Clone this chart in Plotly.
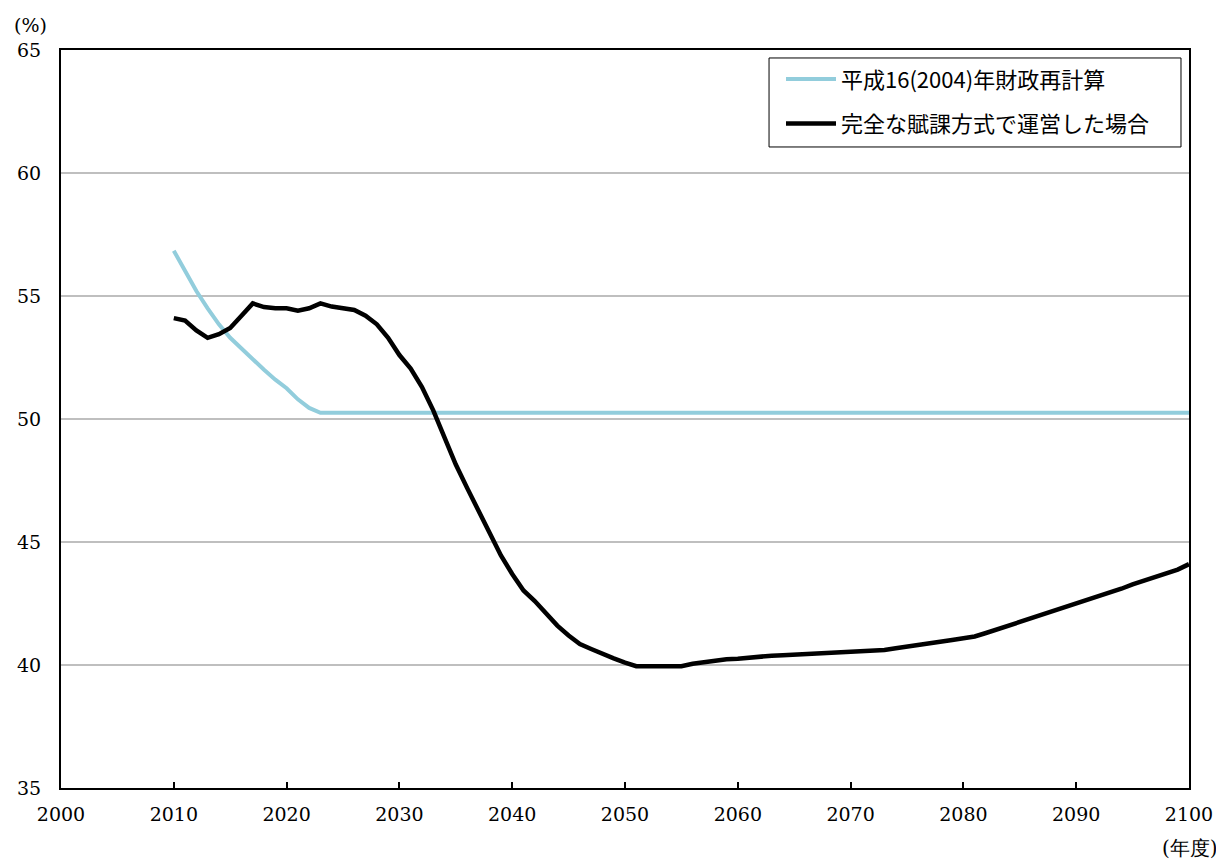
import plotly.graph_objects as go

years_black = list(range(2010, 2101))
black_vals = [
    54.1, 54.0, 53.6, 53.3, 53.45, 53.7, 54.2, 54.7, 54.55, 54.5,
    54.5, 54.4, 54.5, 54.7, 54.57, 54.5, 54.43, 54.2, 53.85, 53.3,
    52.6, 52.05, 51.3, 50.35, 49.2, 48.15, 47.2, 46.3, 45.35, 44.45,
    43.7, 43.03, 42.6, 42.1, 41.6, 41.2, 40.85, 40.65, 40.45, 40.27,
    40.1, 39.95, 39.95, 39.95, 39.95, 39.95, 40.05, 40.12, 40.18, 40.23,
    40.25, 40.3, 40.33, 40.38, 40.4, 40.42, 40.46, 40.47, 40.48, 40.49,
    40.52, 40.55, 40.58, 40.61, 40.68, 40.74, 40.81, 40.88, 40.95, 41.02,
    41.09, 41.16, 41.3, 41.45, 41.58, 41.72, 41.87, 42.02, 42.17, 42.32,
    42.47, 42.62, 42.77, 42.91, 43.1, 43.28, 43.43, 43.58, 43.72, 43.88,
    44.1,
]

years_blue = list(range(2010, 2101))
blue_head = [56.84, 56.0, 55.2, 54.5, 53.85, 53.3, 52.85, 52.4, 52.0, 51.6,
             51.25, 50.8, 50.45]
blue_flat = 50.25
blue_vals = blue_head + [blue_flat] * (len(years_blue) - len(blue_head))

name_blue = "平成16(2004)年財政再計算"
name_black = "完全な賦課方式で運営した場合"

x_ticks = list(range(2000, 2101, 10))
y_ticks = [35, 40, 45, 50, 55, 60, 65]

serif = "DejaVu Serif"
gothic = "Noto Sans CJK JP"

fig = go.Figure()
fig.add_trace(go.Scatter(x=years_blue, y=blue_vals, mode="lines", name=name_blue,
                         line=dict(color="#92CDDC", width=4), legendgroup="a"))
fig.add_trace(go.Scatter(x=years_black, y=black_vals, mode="lines", name=name_black,
                         line=dict(color="#000000", width=4.5), legendgroup="b"))

fig.add_shape(type="rect", xref="paper", yref="paper",
              x0=0.6277, x1=0.9929, y0=0.8686, y1=0.9892,
              line=dict(color="black", width=1), fillcolor="white", layer="above")

fig.update_layout(
    width=1216, height=851,
    margin=dict(l=53, r=35, t=42, b=71, autoexpand=False),
    paper_bgcolor="white", plot_bgcolor="white",
    showlegend=True,
    legend=dict(x=0.6383, y=0.989, xanchor="left", yanchor="top",
                borderwidth=0, bgcolor="rgba(0,0,0,0)",
                font=dict(family=gothic, size=22, color="black"),
                traceorder="grouped", tracegroupgap=13, itemwidth=50),
    xaxis=dict(range=[2000, 2100], tickvals=x_ticks, ticks="inside", ticklen=6,
               tickwidth=1.5, tickcolor="black", showline=True, linecolor="black",
               linewidth=2, mirror=True, showgrid=False, zeroline=False,
               ticklabelstandoff=8, automargin=False,
               tickfont=dict(family=serif, size=19, color="black")),
    yaxis=dict(range=[35, 65], tickvals=y_ticks, ticks="", showline=True,
               linecolor="black", linewidth=2, mirror=True, showgrid=True,
               gridcolor="#BFBFBF", gridwidth=1.5, zeroline=False,
               ticklabelstandoff=14, automargin=False,
               tickfont=dict(family=serif, size=19, color="black")),
    annotations=[
        dict(text="(%)", xref="paper", yref="paper", x=-0.0434, y=1.0, yshift=25,
             xanchor="left", yanchor="middle", showarrow=False,
             font=dict(family=serif, size=19, color="black")),
        dict(text="(年度)", xref="paper", yref="paper", x=1.0275, y=0, yshift=-60,
             xanchor="right", yanchor="middle", showarrow=False,
             font=dict(family=serif, size=20, color="black")),
    ],
)

fig.write_html("out.html")
